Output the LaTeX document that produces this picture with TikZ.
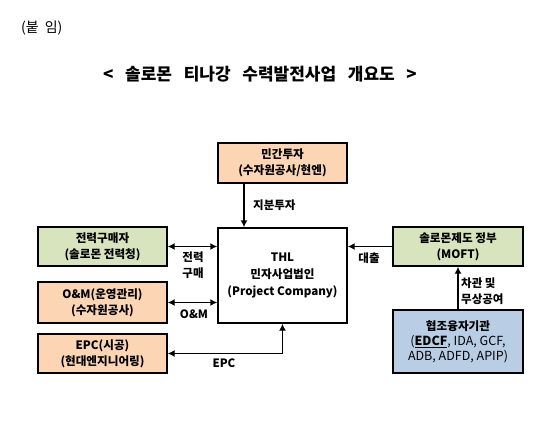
\documentclass[tikz,border=0pt]{standalone}
\usepackage{fontspec}
\setmainfont{Noto Sans CJK KR}
\newfontfamily\titrefont[WordSpace=3]{Noto Sans CJK KR}
\usetikzlibrary{positioning,arrows.meta}
\definecolor{peche}{HTML}{FCD5B5}
\definecolor{vert}{HTML}{D7E4BD}
\definecolor{bleu}{HTML}{B9CDE5}
\begin{document}
\begin{tikzpicture}[
      x=1pt, y=-1pt,
      boite/.style={
        draw,
        line width=1.4pt,
        minimum width=129pt,
        align=center,
        inner sep=2pt,
        font=\fontsize{11.6}{16}\selectfont\bfseries
      },
      etiq/.style={
        align=center,
        inner sep=0pt,
        font=\fontsize{11.5}{16}\selectfont\bfseries
      },
      fleche/.style={
        line width=1.6pt,
        arrows=-{Latex[length=7pt,width=7pt]}
      },
      dfleche/.style={
        line width=1.6pt,
        arrows={Latex[length=7pt,width=7pt]}-{Latex[length=7pt,width=7pt]}
      }
    ]
    \useasboundingbox[fill=white] (0,0) rectangle (558,440);
    % titres
    \node[anchor=west, inner sep=0pt, font=\fontsize{14}{16}\selectfont] (annexe) at (21,28) {(붙\hspace{6pt}임)};
    \node[inner sep=0pt, font=\titrefont\fontsize{17}{19}\selectfont\bfseries] (titre) at (260,74)
      {< 솔로몬 티나강 수력발전사업 개요도 >};
    % boites
    \node[boite, fill=peche, minimum height=40pt] (tuja) at (282.5,163) {민간투자\\(수자원공사/현엔)};
    \node[boite, fill=white, minimum height=95pt, font=\fontsize{11.6}{17}\selectfont\bfseries] (thl) at (282.5,275.5)
      {THL\\민자사업법인\\(Project Company)};
    \node[boite, fill=vert, minimum height=39pt] (gumae) at (102.5,246.5) {전력구매자\\(솔로몬 전력청)};
    \node[boite, fill=peche, minimum height=41pt] (onm) at (102.5,302.5) {O\&M(운영관리)\\(수자원공사)};
    \node[boite, fill=peche, minimum height=39pt] (epc) at (102.5,353.5) {EPC(시공)\\(현대엔지니어링)};
    \node[boite, fill=vert, minimum width=130pt, minimum height=39pt] (jeongbu) at (458,246.5) {솔로몬제도 정부\\(MOFT)};
    \node[boite, fill=bleu, minimum width=130pt, minimum height=63pt, font=\fontsize{12.5}{15}\selectfont] (hyeopjo) at (458,341.5)
      {\fontsize{11.6}{15}\selectfont\textbf{협조융자기관}\\(\underline{\textbf{EDCF}}, IDA, GCF,\\ADB, ADFD, APIP)};
    % liens
    \node[coordinate,xshift=-38.5pt] (tujas) at (tuja.south) {};
    \node[coordinate,xshift=-38.5pt] (thln) at (thl.north) {};
    \draw[fleche] (tujas) -- (thln);
    \draw[dfleche] (gumae.east) -- (gumae.east -| thl.west);
    \draw[dfleche] (onm.east) -- (onm.east -| thl.west);
    \draw[dfleche] (thl.south) |- (epc.east);
    \draw[fleche] (jeongbu.west) -- (jeongbu.west -| thl.east);
    \draw[fleche] (hyeopjo.north) -- (jeongbu.south);
    % etiquettes
    \node[etiq, anchor=west] (ljibun) at (253,205) {지분투자};
    \node[etiq] (lgumae) at (193,265) {전력\\구매};
    \node[etiq] (lonm) at (194,314) {O\&M};
    \node[etiq] (lepc) at (224,363) {EPC};
    \node[etiq] (ldaechul) at (369,258) {대출};
    \node[etiq, anchor=west, align=left] (lchagwan) at (461,291.5) {차관 및\\무상공여};
  \end{tikzpicture}
\end{document}
